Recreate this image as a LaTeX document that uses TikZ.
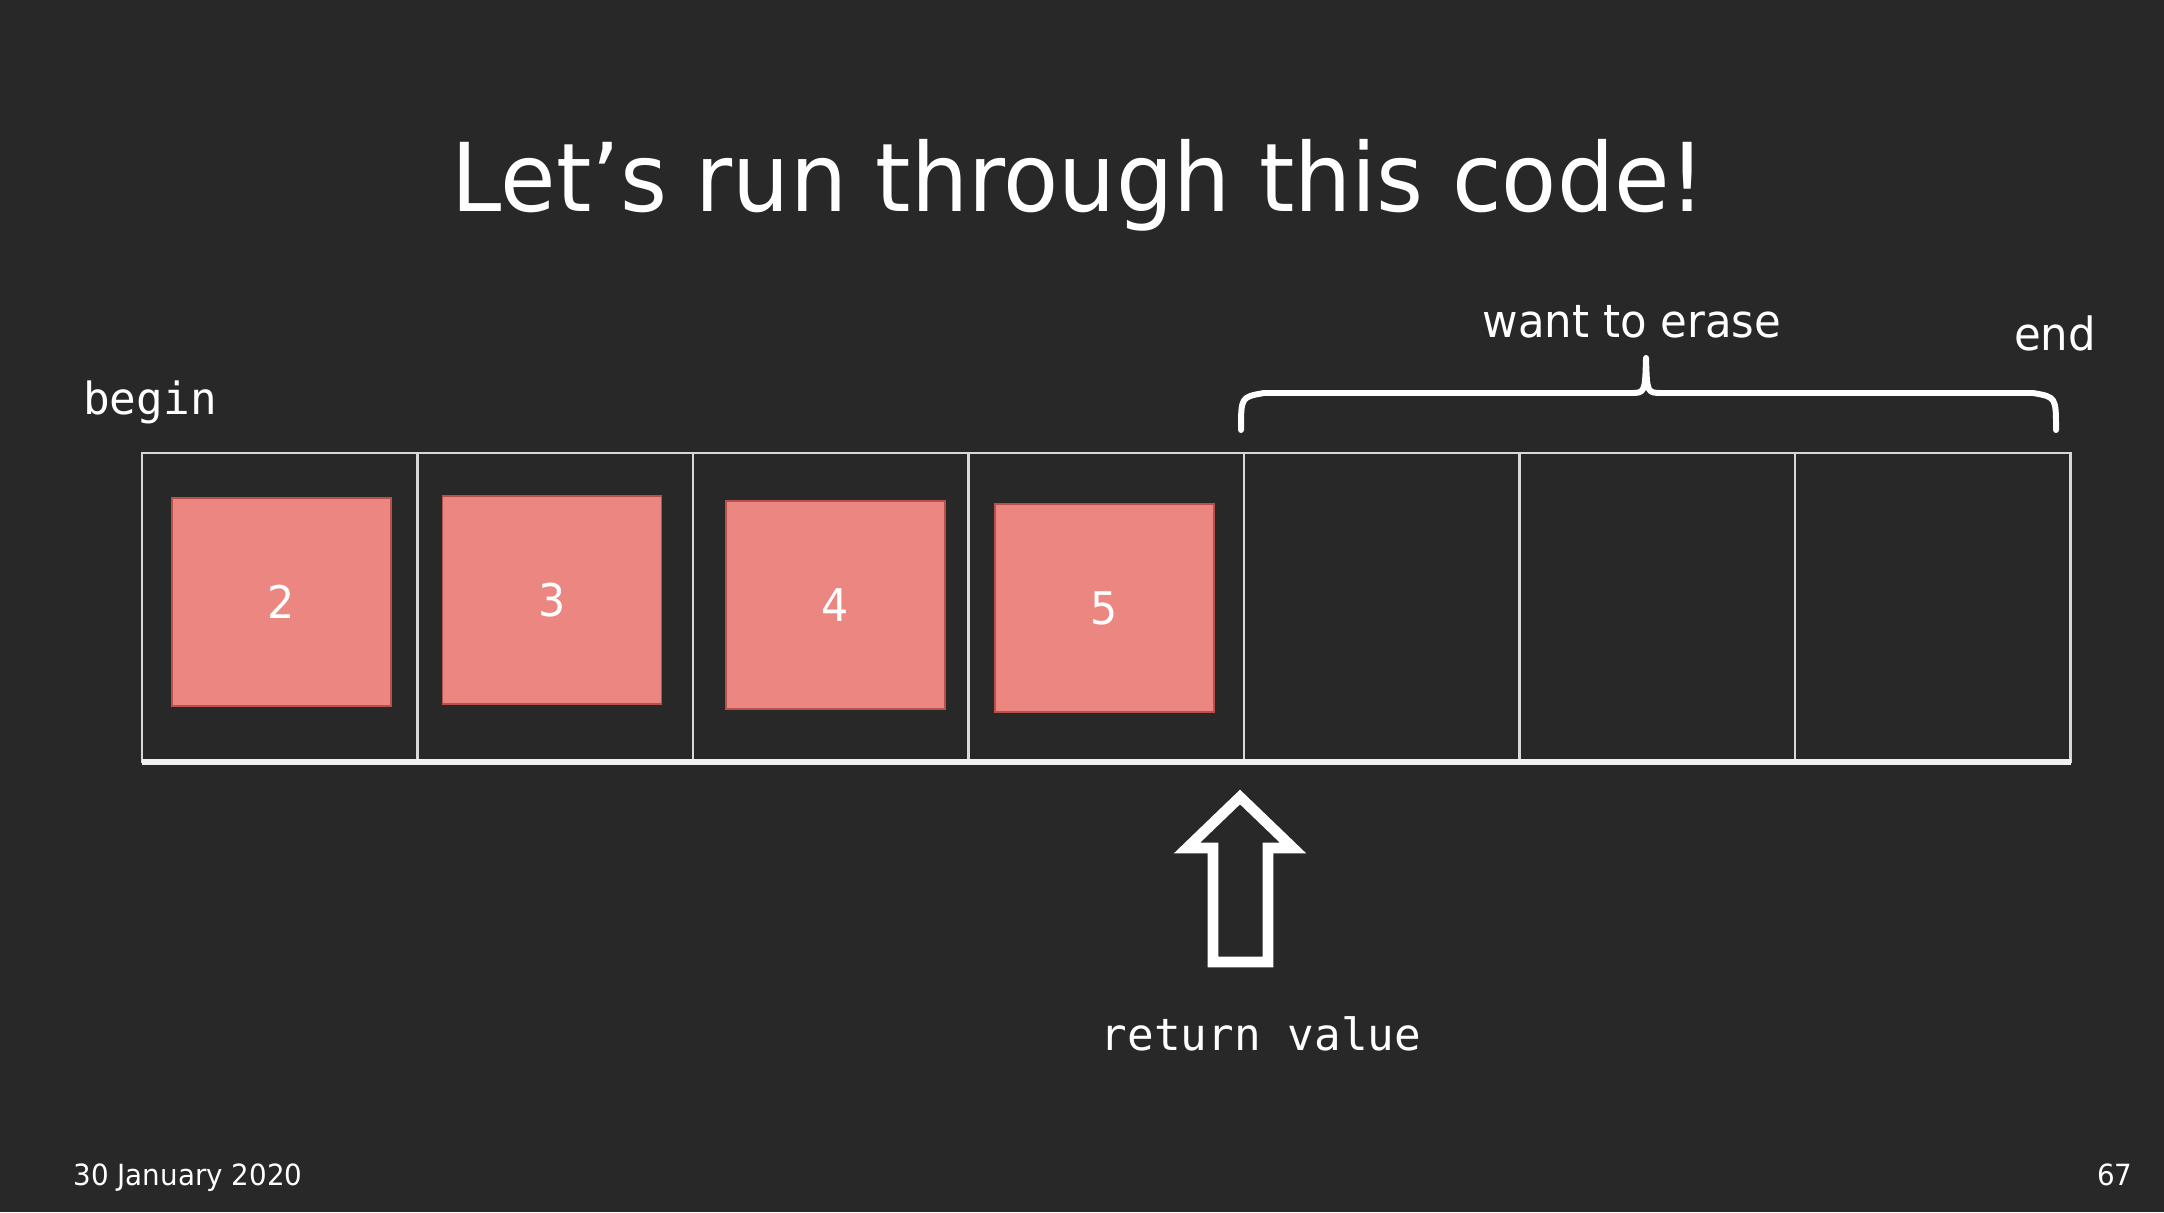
\documentclass[tikz,border=0pt]{standalone}
\usepackage{fontspec}
\newfontfamily\slidesans[FakeStretch=0.95]{DejaVu Sans}
\newfontfamily\slidemono{DejaVu Sans Mono}
\definecolor{bg}{HTML}{282828}
\definecolor{cellline}{HTML}{D8D8D8}
\definecolor{floorline}{HTML}{F0F0F0}
\definecolor{itemfill}{HTML}{EC8681}
\definecolor{itemedge}{HTML}{B8504C}
\tikzset{
  cell/.style={draw=cellline, line width=0.7pt, minimum width=2.755cm, minimum height=3.09cm, inner sep=0pt, outer sep=0pt},
  item/.style={fill=itemfill, draw=itemedge, line width=0.5pt, minimum width=2.19cm, minimum height=2.08cm, inner sep=0pt, text=white, font=\slidesans\fontsize{12.8}{14}\selectfont},
  label/.style={text=white, inner sep=0pt},
  sanslabel/.style={label, font=\slidesans\fontsize{13}{15}\selectfont},
  monolabel/.style={label, font=\slidemono\fontsize{12.6}{15}\selectfont},
  footer/.style={label, font=\slidesans\fontsize{8.3}{10}\selectfont},
}
\begin{document}
\begin{tikzpicture}[x=0.01cm, y=-0.01cm]
  \fill[bg] (0,0) rectangle (2164,1212);
  \useasboundingbox (0,0) rectangle (2164,1212);

  % title
  \node[label, anchor=base, font=\slidesans\fontsize{27}{32}\selectfont] (title) at (1079,211) {Let’s run through this code!};

  % the seven array cells
  \foreach \i in {1,...,7} {
    \node[cell] (c\i) at ({142+275.5*(\i-0.5)}, 607.5) {};
  }
  \draw[draw=floorline, line width=1.6pt] (c1.south west) -- (c7.south east);

  % stored values
  \node[item] (v2) at (281.5,602) {2};
  \node[item] (v3) at (552,600) {3};
  \node[item] (v4) at (835.5,605) {4};
  \node[item] (v5) at (1104.5,608) {5};

  % labels
  \node[monolabel, anchor=base] (begin) at (150,414) {begin};
  \node[sanslabel, anchor=base] (erase) at (1632,337) {want to erase};
  \node[sanslabel, anchor=base] (end) at (2055,350) {end};
  \node[monolabel, anchor=base] (ret) at (1261,1050) {return value};

  % brace over the erased range
  \coordinate (bl) at (1241,430);
  \coordinate (br) at (2056,430);
  \coordinate (bt) at (1646,358);
  \draw[white, line width=1.7pt, line cap=round, line join=round]
    (bl) .. controls (1241,397) .. (1264,393) -- (1630,393)
    .. controls (1645,393) .. (bt)
    .. controls (1647,393) .. (1662,393) -- (2033,393)
    .. controls (2056,397) .. (br);

  % hollow arrow pointing at the returned position
  \draw[white, line width=3pt, line join=miter]
    (1240,797) -- (1293,848) -- (1268,848) -- (1268,962)
    -- (1213,962) -- (1213,848) -- (1187,848) -- cycle;

  % footer
  \node[footer, anchor=base west] (date) at (73,1185) {30 January 2020};
  \node[footer, anchor=base east] (page) at (2133,1185) {67};
\end{tikzpicture}
\end{document}
